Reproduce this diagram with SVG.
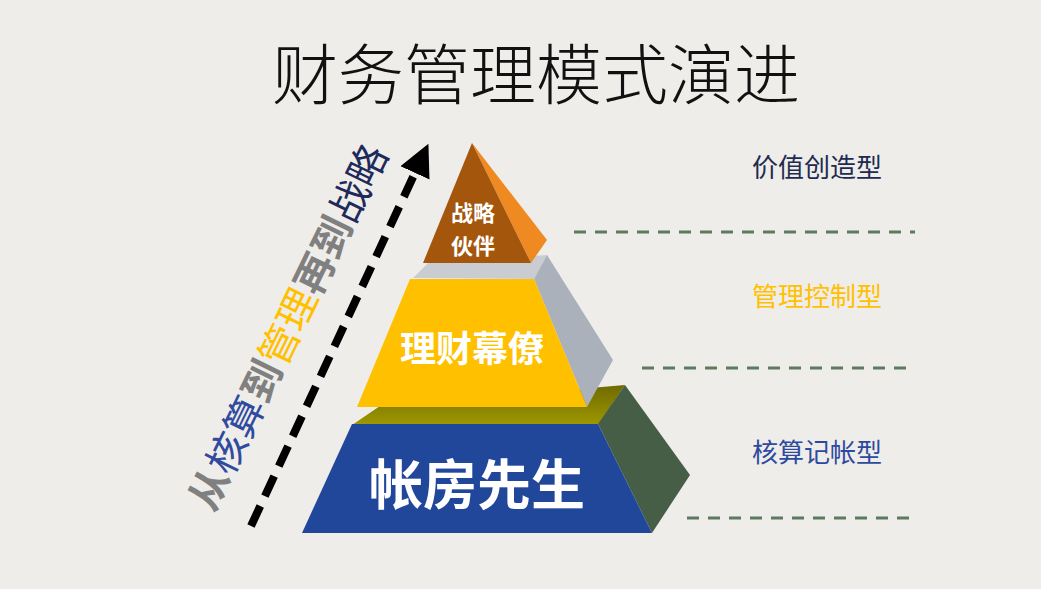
<svg xmlns="http://www.w3.org/2000/svg" width="1041" height="589" viewBox="0 0 1041 589">
<defs>
<style>
.cjk{font-family:"Noto Sans CJK SC","Noto Sans",sans-serif}
.lbl{font-family:"Noto Sans CJK SC",sans-serif;font-weight:700;fill:#ffffff;text-anchor:middle;dominant-baseline:central}
.side{font-family:"Noto Sans CJK SC",sans-serif;font-size:26px;text-anchor:middle;dominant-baseline:central}
.dash{stroke:#5c7a5e;stroke-width:3;stroke-dasharray:12 9;fill:none}
</style>
<linearGradient id="olive" x1="0" y1="0" x2="0" y2="1">
<stop offset="0" stop-color="#6f6a00"/>
<stop offset="1" stop-color="#9e9800"/>
</linearGradient>
<marker id="ah" markerWidth="4" markerHeight="4" refX="1.5" refY="2" orient="auto" markerUnits="strokeWidth">
<path d="M0,0 L4,2 L0,4 Z" fill="#000"/>
</marker>
</defs>
<rect width="1041" height="589" fill="#efedea"/>
<text class="cjk" x="536" y="70" font-size="66" font-weight="300" text-anchor="middle" dominant-baseline="central" fill="#111">财务管理模式演进</text>

<g id="connectors">
<line x1="251" y1="526" x2="420" y2="162" stroke="#000" stroke-width="8" stroke-dasharray="22 11" marker-end="url(#ah)"/>
<line class="dash" x1="574" y1="232" x2="915" y2="232"/>
<line class="dash" x1="642" y1="368" x2="907" y2="368"/>
<line class="dash" x1="687" y1="518" x2="909" y2="518"/>
</g>

<g id="tier-bottom">
<polygon points="352,425 380,406 625,385 598,425" fill="url(#olive)"/>
<polygon points="598,424 625,385 690,475 652,533" fill="#465e45"/>
<polygon points="352,424 598,424 652,533 302,533" fill="#21479b"/>
<text class="lbl" x="477" y="481" font-size="54">帐房先生</text>
</g>

<g id="tier-middle">
<polygon points="413,278 428,263 547,255 534,279" fill="#c9cdd2"/>
<polygon points="534,279 547,255 613,360 587,407" fill="#aab1ba"/>
<polygon points="410,279 534,279 587,407 357,407" fill="#ffc000"/>
<text class="lbl" x="472" y="346" font-size="36">理财幕僚</text>
</g>

<g id="tier-top">
<polygon points="472,143 547,240 531,263" fill="#ef8a22"/>
<polygon points="472,143 531,263 423,263" fill="#a5560d"/>
<text class="lbl" font-size="22"><tspan x="473" y="211">战略</tspan><tspan x="473" y="244">伙伴</tspan></text>
</g>

<g id="label-value"><text class="side" x="817" y="165" fill="#1e2a50">价值创造型</text></g>
<g id="label-control"><text class="side" x="817" y="294" fill="#ffc000">管理控制型</text></g>
<g id="label-account"><text class="side" x="817" y="450" fill="#2e4a9f">核算记帐型</text></g>

<g id="side-caption">
<text class="cjk" transform="translate(286,326) rotate(-64)" font-size="40" text-anchor="middle" dominant-baseline="central"><tspan fill="#808080" font-weight="700">从</tspan><tspan fill="#2f4a9e">核算</tspan><tspan fill="#808080" font-weight="700">到</tspan><tspan fill="#ffc000">管理</tspan><tspan fill="#808080" font-weight="700">再到</tspan><tspan fill="#1e2a5a">战略</tspan></text>
</g>
</svg>
